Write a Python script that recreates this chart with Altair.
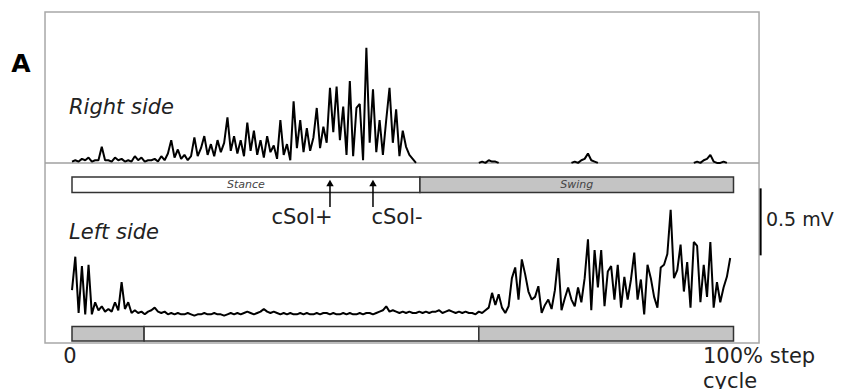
import altair as alt
import pandas as pd

# ---------------- data ----------------
SAMPLE_STEP = 0.5          # % of step cycle between EMG samples
RIGHT_BASELINE = 1.15      # vertical offset (mV) of the right-side trace
SCALE_BAR_MV = 0.5

# rectified EMG, right side (mV), starting at 0 % of the step cycle
right_side_mv = [
    0.01, 0.02, 0.01, 0.03, 0.02, 0.04, 0.01, 0.02, 0.02, 0.12,
    0.02, 0.02, 0.01, 0.04, 0.02, 0.03, 0.01, 0.02, 0.01, 0.05,
    0.02, 0.04, 0.01, 0.02, 0.02, 0.03, 0.01, 0.05, 0.02, 0.07,
    0.17, 0.04, 0.10, 0.03, 0.06, 0.02, 0.05, 0.19, 0.05, 0.11,
    0.20, 0.06, 0.14, 0.05, 0.17, 0.08, 0.15, 0.34, 0.09, 0.20,
    0.07, 0.17, 0.05, 0.30, 0.09, 0.24, 0.06, 0.17, 0.04, 0.20,
    0.08, 0.13, 0.03, 0.32, 0.06, 0.14, 0.02, 0.46, 0.11, 0.32,
    0.08, 0.26, 0.09, 0.19, 0.41, 0.11, 0.27, 0.15, 0.56, 0.23,
    0.57, 0.17, 0.42, 0.06, 0.61, 0.05, 0.41, 0.44, 0.02, 0.86,
    0.15, 0.55, 0.08, 0.32, 0.06, 0.32, 0.56, 0.15, 0.40, 0.05,
    0.24, 0.12, 0.06, 0.03, 0.00,
]

# small bursts on the right side during swing
burst_a_x = [61.5, 62.0, 62.5, 63.0, 63.5, 64.0, 64.5]
burst_a_mv = [0.00, 0.01, 0.00, 0.02, 0.01, 0.01, 0.00]
burst_b_x = [75.5, 76.0, 76.5, 77.0, 77.5, 78.0, 78.5, 79.0, 79.5]
burst_b_mv = [0.00, 0.01, 0.00, 0.02, 0.03, 0.07, 0.02, 0.01, 0.00]
burst_c_x = [94.0, 94.5, 95.0, 95.5, 96.0, 96.5, 97.0, 97.5, 98.0, 98.5, 99.0]
burst_c_mv = [0.00, 0.01, 0.00, 0.02, 0.03, 0.06, 0.01, 0.00, 0.00, 0.01, 0.00]

# rectified EMG, left side (mV), starting at 0 % of the step cycle
left_side_mv = [
    0.20, 0.45, 0.03, 0.38, 0.02, 0.39, 0.02, 0.11, 0.05, 0.08,
    0.04, 0.06, 0.04, 0.11, 0.05, 0.26, 0.06, 0.11, 0.03, 0.05,
    0.03, 0.04, 0.02, 0.04, 0.05, 0.07, 0.04, 0.03, 0.04, 0.02,
    0.03, 0.02, 0.03, 0.02, 0.02, 0.03, 0.02, 0.01, 0.02, 0.02,
    0.03, 0.02, 0.02, 0.03, 0.02, 0.02, 0.01, 0.02, 0.03, 0.02,
    0.03, 0.02, 0.03, 0.04, 0.03, 0.02, 0.03, 0.04, 0.06, 0.04,
    0.03, 0.04, 0.03, 0.02, 0.03, 0.02, 0.03, 0.02, 0.02, 0.03,
    0.02, 0.03, 0.02, 0.02, 0.03, 0.02, 0.03, 0.03, 0.02, 0.03,
    0.02, 0.02, 0.03, 0.02, 0.03, 0.02, 0.02, 0.03, 0.02, 0.03,
    0.03, 0.02, 0.03, 0.04, 0.05, 0.08, 0.04, 0.05, 0.04, 0.03,
    0.04, 0.03, 0.04, 0.03, 0.03, 0.04, 0.03, 0.04, 0.03, 0.04,
    0.04, 0.05, 0.03, 0.04, 0.05, 0.04, 0.03, 0.04, 0.03, 0.04,
    0.03, 0.03, 0.02, 0.04, 0.03, 0.05, 0.07, 0.18, 0.09, 0.17,
    0.07, 0.03, 0.08, 0.29, 0.37, 0.13, 0.43, 0.32, 0.19, 0.13,
    0.15, 0.23, 0.03, 0.09, 0.13, 0.06, 0.20, 0.44, 0.05, 0.14,
    0.22, 0.13, 0.08, 0.22, 0.11, 0.29, 0.58, 0.05, 0.50, 0.22,
    0.50, 0.08, 0.34, 0.38, 0.13, 0.39, 0.07, 0.30, 0.13, 0.28,
    0.48, 0.13, 0.28, 0.02, 0.39, 0.29, 0.15, 0.07, 0.37, 0.39,
    0.47, 0.80, 0.29, 0.35, 0.54, 0.19, 0.41, 0.07, 0.56, 0.53,
    0.11, 0.39, 0.15, 0.56, 0.07, 0.26, 0.11, 0.22, 0.30, 0.44,
]

# step-cycle phases (% of cycle)
right_phase_kind = ["stance", "swing"]
right_phase_start = [0.0, 52.6]
right_phase_end = [52.6, 100.0]
right_phase_label = ["Stance", "Swing"]

left_phase_kind = ["swing", "stance", "swing"]
left_phase_start = [0.0, 10.9, 61.5]
left_phase_end = [10.9, 61.5, 100.0]

marker_label = ["cSol+", "cSol-"]
marker_x = [39.0, 45.5]

# ---------------- layout ----------------
W, H = 831, 381
PX_PER_PCT = 6.615
PX_PER_MV = 134.0
X0_PX = 64.0
Y0_PX = 309.0
xs = alt.Scale(domain=[-X0_PX / PX_PER_PCT, (W - X0_PX) / PX_PER_PCT], nice=False, zero=False)
ys = alt.Scale(domain=[-(H - Y0_PX) / PX_PER_MV, Y0_PX / PX_PER_MV], nice=False, zero=False)
FONT = "DejaVu Sans"

# ---------------- tables ----------------
rows = []
for i, v in enumerate(right_side_mv):
    rows.append({"x": i * SAMPLE_STEP, "y": v + RIGHT_BASELINE, "trace": "right"})
for name, bx, bv in [("ra", burst_a_x, burst_a_mv), ("rb", burst_b_x, burst_b_mv), ("rc", burst_c_x, burst_c_mv)]:
    for x, v in zip(bx, bv):
        rows.append({"x": x, "y": v + RIGHT_BASELINE, "trace": name})
for i, v in enumerate(left_side_mv):
    rows.append({"x": i * SAMPLE_STEP, "y": v, "trace": "left"})
traces = pd.DataFrame(rows)

right_phases = pd.DataFrame({"kind": right_phase_kind, "start": right_phase_start,
                             "end": right_phase_end, "label": right_phase_label})
left_phases = pd.DataFrame({"kind": left_phase_kind, "start": left_phase_start, "end": left_phase_end})
markers = pd.DataFrame({"label": marker_label, "x": marker_x})

X = lambda f: alt.X(f, type="quantitative", scale=xs, axis=None)
Y = lambda f: alt.Y(f, type="quantitative", scale=ys, axis=None)
XD = lambda v: alt.XDatum(v, type="quantitative", scale=xs, axis=None)
YD = lambda v: alt.YDatum(v, type="quantitative", scale=ys, axis=None)

one = pd.DataFrame({"k": [0]})

frame = alt.Chart(one).mark_rect(fillOpacity=0, stroke="#a8a8a8", strokeWidth=1.5).encode(
    x=XD(-4.08), x2=alt.X2Datum(103.86), y=YD(2.276), y2=alt.Y2Datum(-0.194))

baseline = alt.Chart(one).mark_rule(stroke="#a0a0a0", strokeWidth=1.5).encode(
    x=XD(-4.08), x2=alt.X2Datum(103.86), y=YD(RIGHT_BASELINE))

lines = alt.Chart(traces).mark_line(color="black", strokeWidth=2, strokeJoin="bevel").encode(
    x=X("x"), y=Y("y"), detail="trace:N")

phase_color = alt.Color("kind:N", scale=alt.Scale(domain=["stance", "swing"], range=["white", "#c4c4c4"]), legend=None)

bars_r = alt.Chart(right_phases).mark_rect(stroke="#333333", strokeWidth=1.5).encode(
    x=X("start"), x2="end", y=YD(1.045), y2=alt.Y2Datum(0.93), fill=phase_color)
bars_l = alt.Chart(left_phases).mark_rect(stroke="#333333", strokeWidth=1.5).encode(
    x=X("start"), x2="end", y=YD(-0.07), y2=alt.Y2Datum(-0.18), fill=phase_color)

phase_text = alt.Chart(right_phases).transform_calculate(mid="(datum.start + datum.end) / 2").mark_text(
    font=FONT, fontSize=11, fontStyle="italic", color="#444444").encode(
    x=X("mid"), y=YD(0.988), text="label:N")

shafts = alt.Chart(markers).mark_rule(color="black", strokeWidth=1.5).encode(
    x=X("x"), y=YD(0.82), y2=alt.Y2Datum(0.99))
heads = alt.Chart(markers).mark_point(shape="triangle-up", filled=True, size=55, color="black", opacity=1).encode(
    x=X("x"), y=YD(1.0))

scalebar = alt.Chart(one).mark_rule(color="black", strokeWidth=2).encode(
    x=XD(104.1), y=YD(0.46), y2=alt.Y2Datum(0.46 + SCALE_BAR_MV))


def label(text, x, y, size=21, align="left", style="normal", weight="normal", color="#222222"):
    return alt.Chart(pd.DataFrame({"t": [text]})).mark_text(
        font=FONT, fontSize=size, align=align, baseline="middle", fontStyle=style,
        fontWeight=weight, color=color).encode(x=XD(x), y=YD(y), text="t:N")


labels = [
    label("A", -7.71, 1.888, size=25, align="center", weight="bold", color="black"),
    label("Right side", -0.45, 1.56, style="italic"),
    label("Left side", -0.45, 0.627, style="italic"),
    label("cSol+", 34.77, 0.739, align="center"),
    label("cSol-", 49.13, 0.739, align="center"),
    label("0.5 mV", 104.9, 0.724, size=19),
    label("0", -0.3, -0.30, align="center"),
    label("100% step", 95.39, -0.30),
    label("cycle", 95.39, -0.485),
]

chart = alt.layer(frame, baseline, lines, bars_r, bars_l, phase_text, shafts, heads, scalebar, *labels).properties(
    width=W, height=H, padding=0, autosize=alt.AutoSizeParams(type="none"), background="white"
).configure_view(stroke=None)

chart.save("out.html", embed_options={"renderer": "svg", "actions": False})
